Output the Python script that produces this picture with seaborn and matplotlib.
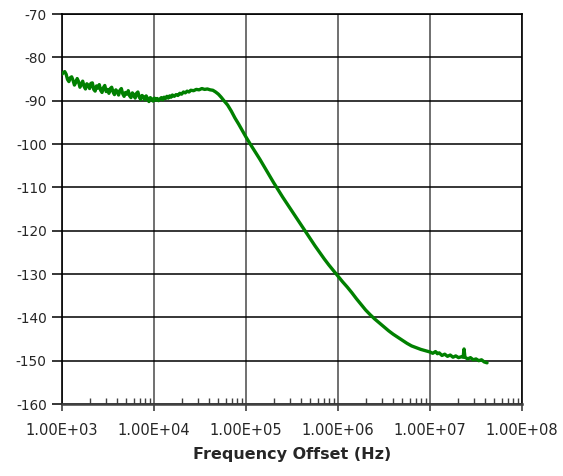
import numpy as np
import pandas as pd
import matplotlib
matplotlib.use("Agg")
import matplotlib.pyplot as plt
import matplotlib.ticker as mticker
import seaborn as sns

# ---- data: log10 of frequency offset (Hz) and phase noise (dBc/Hz) ----
noisy_log_freq = [
    3.000, 3.015, 3.030, 3.045, 3.060, 3.075, 3.090, 3.105, 3.120, 3.135,
    3.150, 3.165, 3.180, 3.195, 3.210, 3.225, 3.240, 3.255, 3.270, 3.285,
    3.300, 3.315, 3.330, 3.345, 3.360, 3.375, 3.390, 3.405, 3.420, 3.435,
    3.450, 3.465, 3.480, 3.495, 3.510, 3.525, 3.540, 3.555, 3.570, 3.585,
    3.600, 3.615, 3.630, 3.645, 3.660, 3.675, 3.690, 3.705, 3.720, 3.735,
    3.750, 3.765, 3.780, 3.795, 3.810, 3.825, 3.840, 3.855, 3.870, 3.885,
    3.900, 3.915, 3.930, 3.945, 3.960, 3.975, 3.990, 4.005, 4.020, 4.035,
    4.050, 4.065, 4.080, 4.095, 4.110, 4.125, 4.140, 4.155, 4.170, 4.185,
    4.200,
]
noisy_dbc = [
    -83.9, -83.5, -83.3, -83.9, -85.1, -85.6, -84.7, -84.5, -85.3, -86.4,
    -85.8, -84.9, -85.6, -86.9, -86.2, -85.5, -86.7, -87.3, -86.1, -86.4,
    -87.2, -86.0, -85.9, -87.4, -87.8, -86.6, -87.1, -86.3, -87.6, -88.1,
    -87.0, -86.5, -87.9, -87.4, -88.3, -87.2, -86.9, -88.0, -88.6, -87.5,
    -87.9, -88.7, -87.6, -87.2, -88.4, -89.0, -88.1, -88.5, -87.7, -88.9,
    -89.3, -88.2, -88.6, -89.4, -88.3, -88.0, -89.2, -89.7, -88.8, -89.1,
    -89.8, -88.9, -89.5, -90.2, -89.3, -89.6, -90.1, -89.4, -89.9, -89.5,
    -90.0, -89.6, -89.3, -89.8, -89.2, -89.5, -89.0, -89.4, -88.9, -89.2,
    -88.7,
]
knee_log_freq = [
    4.22, 4.24, 4.26, 4.28, 4.30, 4.32, 4.34, 4.36, 4.38, 4.40,
    4.43, 4.46, 4.49, 4.52, 4.55, 4.58, 4.61, 4.64, 4.67, 4.70,
    4.73, 4.76, 4.80, 4.84, 4.88, 4.92, 4.96, 5.00, 5.04,
]
knee_dbc = [
    -89.0, -88.6, -88.8, -88.3, -88.5, -88.0, -88.2, -87.8, -88.0, -87.6,
    -87.7, -87.4, -87.5, -87.2, -87.4, -87.3, -87.5, -87.6, -88.0, -88.5,
    -89.2, -90.0, -91.0, -92.4, -94.0, -95.4, -96.9, -98.4, -99.8,
]
rolloff_log_freq = [
    5.10, 5.15, 5.20, 5.25, 5.30, 5.35, 5.40, 5.45, 5.50, 5.55,
    5.60, 5.65, 5.70, 5.75, 5.80, 5.85, 5.90, 5.95, 6.00, 6.05,
    6.10, 6.15, 6.20, 6.25, 6.30, 6.35, 6.40, 6.45, 6.50, 6.55,
    6.60, 6.65, 6.70, 6.75, 6.80, 6.85, 6.90, 6.95, 7.00,
]
rolloff_dbc = [
    -101.8, -103.5, -105.3, -107.1, -108.9, -110.6, -112.3, -113.9, -115.5, -117.1,
    -118.7, -120.3, -121.9, -123.5, -125.0, -126.5, -127.9, -129.2, -130.5, -131.8,
    -133.0, -134.3, -135.7, -137.0, -138.3, -139.4, -140.4, -141.3, -142.2, -143.1,
    -143.9, -144.6, -145.3, -146.0, -146.6, -147.0, -147.4, -147.7, -148.0,
]
floor_log_freq = [
    7.03, 7.06, 7.08, 7.10, 7.13, 7.16, 7.19, 7.22, 7.25, 7.28,
    7.31, 7.34, 7.36, 7.37, 7.38, 7.41, 7.44, 7.47, 7.50, 7.53,
    7.56, 7.59, 7.62,
]
floor_dbc = [
    -148.3, -147.9, -148.4, -148.2, -148.8, -148.5, -149.0, -148.7, -149.2, -148.9,
    -149.3, -149.1, -149.2, -147.3, -149.2, -149.6, -149.3, -149.8, -149.6, -150.0,
    -149.8, -150.3, -150.5,
]

x_ticks = [1e3, 1e4, 1e5, 1e6, 1e7, 1e8]
x_tick_labels = ["1.00E+03", "1.00E+04", "1.00E+05", "1.00E+06", "1.00E+07", "1.00E+08"]
y_ticks = list(range(-160, -69, 10))

log_freq = noisy_log_freq + knee_log_freq + rolloff_log_freq + floor_log_freq
noise_dbc = noisy_dbc + knee_dbc + rolloff_dbc + floor_dbc
df = pd.DataFrame({"freq": 10 ** np.array(log_freq), "noise": noise_dbc})

sns.set_style("white")
plt.rcParams["font.family"] = ["DejaVu Sans"]

fig = plt.figure(figsize=(5.63, 4.76), dpi=100)
ax = fig.add_axes([62 / 563, 1 - 404 / 476, 460 / 563, 390 / 476])

sns.lineplot(data=df, x="freq", y="noise", ax=ax, color="#008000",
             linewidth=2.4, sort=False, zorder=3)

ax.set_xscale("log")
ax.set_xlim(1e3, 1e8)
ax.set_ylim(-160, -70)
ax.set_xticks(x_ticks)
ax.set_xticklabels(x_tick_labels)
ax.set_yticks(y_ticks)
ax.set_yticklabels([str(v) for v in y_ticks])
ax.xaxis.set_minor_locator(mticker.LogLocator(base=10, subs=np.arange(2, 10), numticks=20))
ax.xaxis.set_minor_formatter(mticker.NullFormatter())

ax.yaxis.grid(True, color="black", linewidth=1.1)
ax.xaxis.grid(True, which="major", color="#707070", linewidth=1.4)
ax.xaxis.grid(False, which="minor")
ax.set_axisbelow(True)

for s in ["top", "right", "left"]:
    ax.spines[s].set_color("black")
    ax.spines[s].set_linewidth(1.2)
ax.spines["bottom"].set_color("#404040")
ax.spines["bottom"].set_linewidth(1.8)

ax.tick_params(axis="x", which="major", direction="out", length=5, width=1.2,
               color="#404040", labelsize=10.5, pad=9, bottom=True)
ax.tick_params(axis="x", which="minor", direction="in", length=4, width=1.0,
               color="#404040", bottom=True)
ax.tick_params(axis="y", which="major", direction="out", length=7, width=1.1,
               color="black", labelsize=9.8, pad=4, left=True)

ax.set_xlabel("Frequency Offset (Hz)", fontsize=11.5, fontweight="bold", labelpad=6)
ax.set_ylabel("")

fig.savefig("out.png", dpi=100)
